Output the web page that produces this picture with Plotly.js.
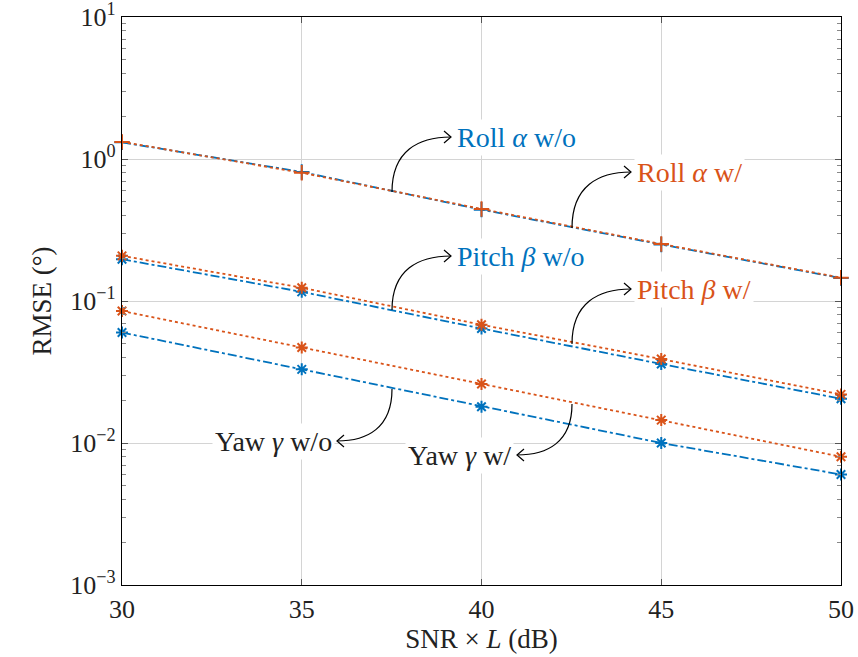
<!DOCTYPE html>
<html>
<head>
<meta charset="utf-8">
<script src="https://cdn.plot.ly/plotly-3.0.1.min.js"></script>
<style>
  html, body { margin: 0; padding: 0; background: #fff; }
  #chart { width: 858px; height: 657px; }
</style>
</head>
<body>
<div id="chart"></div>
<script>
// SNR x L sweep (dB)
const snr = [30, 35, 40, 45, 50];

// RMSE (degrees) per angle, without / with compensation
const rollWo  = [1.31, 0.81, 0.44, 0.25, 0.145];
const rollW   = [1.32, 0.80, 0.445, 0.252, 0.146];
const pitchWo = [0.197, 0.116, 0.064, 0.036, 0.0205];
const pitchW  = [0.208, 0.124, 0.068, 0.039, 0.022];
const yawWo   = [0.060, 0.033, 0.018, 0.010, 0.006];
const yawW    = [0.085, 0.047, 0.026, 0.0145, 0.008];

const yTickVals = [1e-3, 1e-2, 1e-1, 1, 10];
const yTickText = ['10<sup>−3</sup>', '10<sup>−2</sup>', '10<sup>−1</sup>', '10<sup>0</sup>', '10<sup>1</sup>'];

// minor ticks at 2..9 of every decade
const yMinorVals = [];
for (let e = -3; e < 1; e++) {
  for (let m = 2; m <= 9; m++) yMinorVals.push(m * Math.pow(10, e));
}

const BLUE = '#0072BD';
const ORANGE = '#D95319';
const FONT = 'Liberation Serif, DejaVu Serif, serif';

function series(y, color, dash, symbol, size) {
  return {
    x: snr, y: y, type: 'scatter', mode: 'lines+markers', cliponaxis: false,
    line: { color: color, dash: dash, width: 1.8 },
    marker: { symbol: symbol, size: size, color: color, line: { color: color, width: 2 } },
    showlegend: false, hoverinfo: 'skip'
  };
}

const traces = [
  series(rollWo, BLUE, 'dashdot', 'cross-thin', 11),
  series(rollW, ORANGE, 'dot', 'cross-thin', 11),
  series(pitchWo, BLUE, 'dashdot', 'asterisk-open', 10),
  series(pitchW, ORANGE, 'dot', 'asterisk-open', 10),
  series(yawWo, BLUE, 'dashdot', 'asterisk-open', 10),
  series(yawW, ORANGE, 'dot', 'asterisk-open', 10)
];

// plot area in pixels (used to place callout arrows in paper coordinates)
const M = { l: 122, r: 17, t: 17, b: 72 };
const W = 858, H = 657;
const PW = W - M.l - M.r, PH = H - M.t - M.b;
const px = x => (x - M.l) / PW;
const py = y => (H - M.b - y) / PH;

// curved callout: leaves the line vertically, arrives horizontally at the label
function callout(sx, sy, ex, ey) {
  const c1 = [sx, sy + (ey - sy) * 0.75];
  const c2 = [sx + (ex - sx) * 0.45, ey];
  const d = 'M ' + px(sx) + ',' + py(sy) +
            ' C ' + px(c1[0]) + ',' + py(c1[1]) + ' ' + px(c2[0]) + ',' + py(c2[1]) + ' ' + px(ex) + ',' + py(ey);
  const dir = ex > sx ? 1 : -1;
  const head = 'M ' + px(ex - dir * 7) + ',' + py(ey - 6) + ' L ' + px(ex) + ',' + py(ey) +
               ' L ' + px(ex - dir * 7) + ',' + py(ey + 6);
  const style = { xref: 'paper', yref: 'paper', type: 'path', line: { color: '#000', width: 1.2 }, layer: 'above' };
  return [Object.assign({ path: d }, style), Object.assign({ path: head }, style)];
}

const shapes = [].concat(
  callout(392, 192, 451, 137),
  callout(572, 228, 631, 172),
  callout(392, 310, 451, 256),
  callout(572, 344, 631, 289),
  callout(392, 389, 337, 441),
  callout(572, 404, 517, 455)
);

function label(text, x, y, color, anchor) {
  return {
    xref: 'paper', yref: 'paper', x: px(x), y: py(y), text: text, showarrow: false,
    xanchor: anchor, yanchor: 'middle', bgcolor: '#fff', borderpad: 2,
    font: { family: FONT, size: 28, color: color }
  };
}

const annotations = [
  label('Roll <i>α</i> w/o', 454, 137, BLUE, 'left'),
  label('Roll <i>α</i> w/', 634, 172, ORANGE, 'left'),
  label('Pitch <i>β</i> w/o', 454, 256, BLUE, 'left'),
  label('Pitch <i>β</i> w/', 634, 289, ORANGE, 'left'),
  label('Yaw <i>γ</i> w/o', 335, 441, '#222', 'right'),
  label('Yaw <i>γ</i> w/', 514, 455, '#222', 'right')
];

const layout = {
  width: W, height: H,
  margin: M,
  paper_bgcolor: '#fff', plot_bgcolor: '#fff',
  font: { family: FONT, size: 26, color: '#222' },
  xaxis: {
    range: [30, 50], tickvals: snr, ticks: 'inside', ticklen: 6, tickcolor: '#555',
    showgrid: true, gridcolor: '#d4d4d4', gridwidth: 1,
    showline: true, linecolor: '#000', linewidth: 1.3, mirror: 'ticks',
    zeroline: false, ticklabeloverflow: 'allow',
    title: { text: 'SNR × <i>L</i> (dB)', font: { family: FONT, size: 27 }, standoff: 6 },
    tickfont: { family: FONT, size: 26 }
  },
  yaxis: {
    type: 'log', range: [-3, 1], tickvals: yTickVals, ticktext: yTickText,
    ticks: 'inside', ticklen: 6, tickcolor: '#555',
    minor: { tickmode: 'array', tickvals: yMinorVals, ticks: 'inside', ticklen: 4, tickcolor: '#888', showgrid: false },
    showgrid: true, gridcolor: '#d4d4d4', gridwidth: 1,
    showline: true, linecolor: '#000', linewidth: 1.3, mirror: 'ticks',
    zeroline: false, ticklabeloverflow: 'allow',
    title: { text: 'RMSE (°)', font: { family: FONT, size: 27 }, standoff: 10 },
    tickfont: { family: FONT, size: 26 }
  },
  shapes: shapes,
  annotations: annotations
};

Plotly.newPlot('chart', traces, layout, { staticPlot: true, displayModeBar: false });
</script>
</body>
</html>
